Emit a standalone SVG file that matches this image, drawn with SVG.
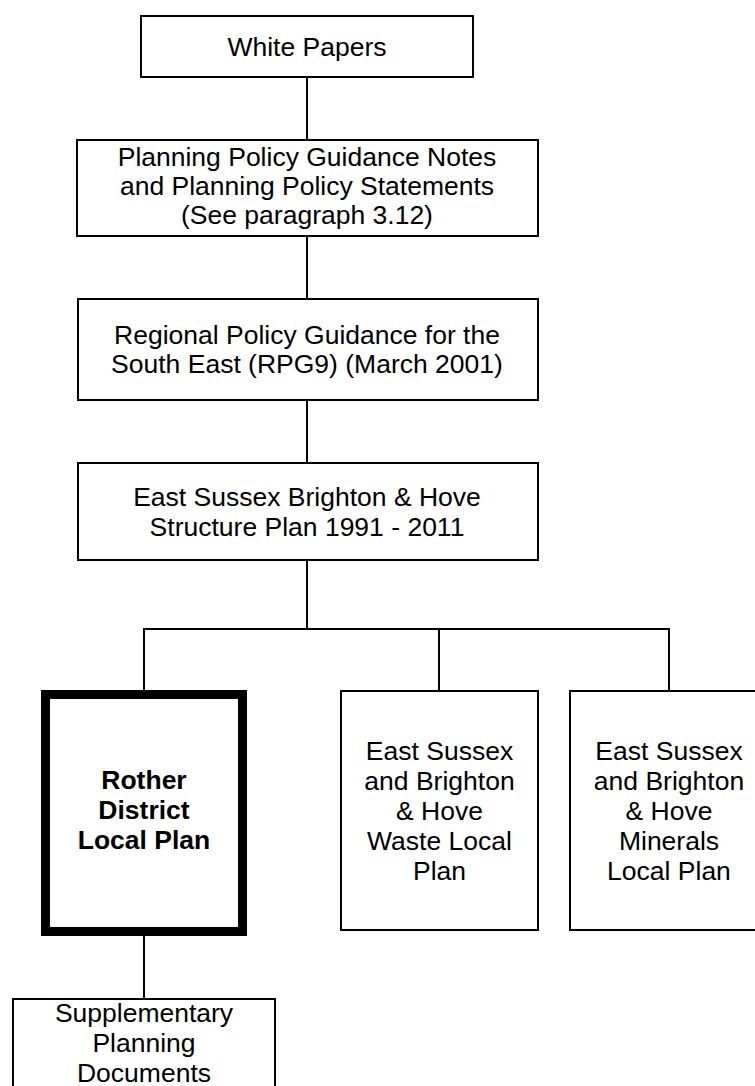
<svg xmlns="http://www.w3.org/2000/svg" width="755" height="1086" viewBox="0 0 755 1086">
<style>
.box{fill:#fff;stroke:#000;stroke-width:2}
.bold{fill:#fff;stroke:#000;stroke-width:9}
.con{stroke:#000;stroke-width:2;fill:none}
text{font-family:"Liberation Sans",Arial,sans-serif;font-size:26.5px;fill:#000;text-anchor:middle}
.b{font-weight:bold}
</style>
<rect width="755" height="1086" fill="#fff"/>
<g id="connectors">
<line class="con" x1="307" y1="77" x2="307" y2="140"/>
<line class="con" x1="307" y1="236" x2="307" y2="299"/>
<line class="con" x1="307" y1="400" x2="307" y2="463"/>
<line class="con" x1="307" y1="560" x2="307" y2="629"/>
<line class="con" x1="143" y1="629" x2="670" y2="629"/>
<line class="con" x1="144" y1="629" x2="144" y2="691"/>
<line class="con" x1="439" y1="629" x2="439" y2="691"/>
<line class="con" x1="669" y1="629" x2="669" y2="691"/>
<line class="con" x1="144" y1="935" x2="144" y2="999"/>
</g>
<g id="white-papers">
<rect class="box" x="141" y="16" width="332" height="61"/>
<text x="307" y="56">White Papers</text>
</g>
<g id="ppg">
<rect class="box" x="77" y="140" width="461" height="96"/>
<text x="307" y="166">Planning Policy Guidance Notes</text>
<text x="307" y="195">and Planning Policy Statements</text>
<text x="307" y="224">(See paragraph 3.12)</text>
</g>
<g id="rpg">
<rect class="box" x="78" y="299" width="460" height="101"/>
<text x="307" y="344">Regional Policy Guidance for the</text>
<text x="307" y="373">South East (RPG9) (March 2001)</text>
</g>
<g id="structure-plan">
<rect class="box" x="78" y="463" width="460" height="97"/>
<text x="307" y="506">East Sussex Brighton &amp; Hove</text>
<text x="307" y="536">Structure Plan 1991 - 2011</text>
</g>
<g id="rother">
<rect class="bold" x="45.5" y="694.5" width="197" height="237"/>
<text class="b" x="144" y="789">Rother</text>
<text class="b" x="144" y="819">District</text>
<text class="b" x="144" y="849">Local Plan</text>
</g>
<g id="waste">
<rect class="box" x="341" y="691" width="197" height="239"/>
<text x="439.5" y="760">East Sussex</text>
<text x="439.5" y="790">and Brighton</text>
<text x="439.5" y="820">&amp; Hove</text>
<text x="439.5" y="850">Waste Local</text>
<text x="439.5" y="880">Plan</text>
</g>
<g id="minerals">
<rect class="box" x="570" y="691" width="198" height="239"/>
<text x="669" y="760">East Sussex</text>
<text x="669" y="790">and Brighton</text>
<text x="669" y="820">&amp; Hove</text>
<text x="669" y="850">Minerals</text>
<text x="669" y="880">Local Plan</text>
</g>
<g id="spd">
<rect class="box" x="13" y="999" width="262" height="110"/>
<text x="144" y="1022">Supplementary</text>
<text x="144" y="1052">Planning</text>
<text x="144" y="1082">Documents</text>
</g>
</svg>
